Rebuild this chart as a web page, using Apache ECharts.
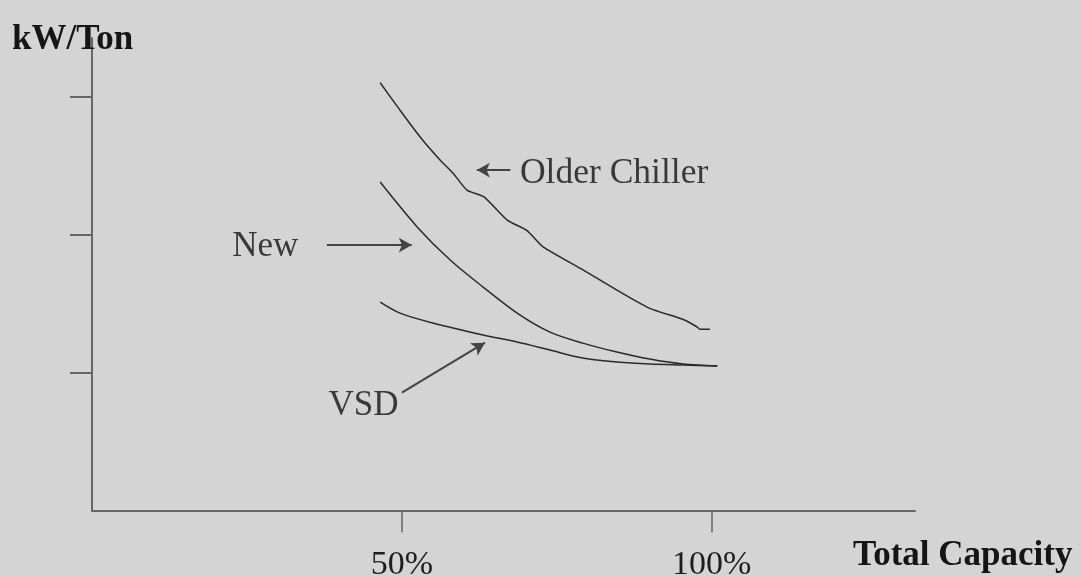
<!DOCTYPE html>
<html>
<head>
<meta charset="utf-8">
<script src="https://cdn.jsdelivr.net/npm/echarts@6/dist/echarts.min.js"></script>
<style>
html,body{margin:0;padding:0;background:#d4d4d4;}
#chart{width:1081px;height:577px;}
</style>
</head>
<body>
<div id="chart"></div>
<script>
// Data (x = % of total capacity, y = kW/Ton in tick units)
var olderX = [46.5, 49.7, 52.95, 56.2, 58.3, 60.5, 63.2, 67.0, 70.2, 72.8, 79.3, 84.7, 90.0, 95.4, 97.6, 98.1, 99.7];
var olderY = [3.105, 2.906, 2.712, 2.543, 2.447, 2.326, 2.278, 2.108, 2.032, 1.914, 1.745, 1.600, 1.467, 1.387, 1.334, 1.315, 1.315];
var newX = [46.5, 52.5, 57.8, 63.1, 68.6, 73.9, 79.2, 84.7, 90.0, 95.4, 100.9];
var newY = [2.384, 2.057, 1.818, 1.622, 1.433, 1.295, 1.215, 1.150, 1.099, 1.063, 1.049];
var vsdX = [46.5, 49.7, 55.0, 63.1, 68.6, 73.9, 79.2, 84.7, 90.0, 95.4, 100.9];
var vsdY = [1.513, 1.433, 1.361, 1.274, 1.223, 1.165, 1.107, 1.078, 1.063, 1.056, 1.049];
var xTickValues = [50, 100];
var yTickValues = [1, 2, 3];
var xTickLabels = ['50%', '100%'];
var annotNames = ['Older Chiller', 'New', 'VSD'];
var annotX = [69.05, 27.95, 43.8];
var annotY = [2.445, 1.912, 0.758];
var arrowFromX = [67.5, 37.9, 50.0];
var arrowFromY = [2.471, 1.927, 0.855];
var arrowToX = [62.1, 51.6, 63.4];
var arrowToY = [2.471, 1.927, 1.218];

function pairs(xs, ys){ return xs.map(function(x,i){ return [x, ys[i]]; }); }

var lineStyleCurve = {color:'#2a2a2a', width:1.5};
var fontFam = '"Liberation Serif", "Times New Roman", serif';

var chart = echarts.init(document.getElementById('chart'), null, {renderer:'canvas'});
chart.setOption({
  backgroundColor:'#d4d4d4',
  animation:false,
  title:[
    {text:'kW/Ton', left:7, top:17, textStyle:{fontFamily:fontFam, fontWeight:'bold', fontSize:35, color:'#151515'}},
    {text:'Total Capacity', left:848, top:533, textStyle:{fontFamily:fontFam, fontWeight:'bold', fontSize:35, color:'#151515'}}
  ],
  grid:{left:92, right:166, top:38, bottom:66.5, containLabel:false, outerBoundsMode:'none'},
  xAxis:{
    type:'value', min:0, max:132.8,
    axisLine:{show:true, lineStyle:{color:'#666', width:2}},
    axisTick:{show:true, customValues:xTickValues, length:22, lineStyle:{color:'#666', width:1.5}},
    axisLabel:{show:true, customValues:xTickValues, margin:38, verticalAlign:'top',
      formatter:function(v){ return xTickLabels[xTickValues.indexOf(v)]; },
      fontFamily:fontFam, fontSize:34, color:'#1e1e1e'},
    splitLine:{show:false}
  },
  yAxis:{
    type:'value', min:0, max:3.43,
    axisLine:{show:true, lineStyle:{color:'#666', width:2}},
    axisTick:{show:true, customValues:yTickValues, length:22, lineStyle:{color:'#666', width:2}},
    axisLabel:{show:false},
    splitLine:{show:false}
  },
  series:[
    {type:'line', name:'Older Chiller', data:pairs(olderX, olderY), showSymbol:false, symbol:'none', smooth:0.2, lineStyle:lineStyleCurve, silent:true},
    {type:'line', name:'New', data:pairs(newX, newY), showSymbol:false, symbol:'none', smooth:0.3, lineStyle:lineStyleCurve, silent:true},
    {type:'line', name:'VSD', data:pairs(vsdX, vsdY), showSymbol:false, symbol:'none', smooth:0.3, lineStyle:lineStyleCurve, silent:true},
    {type:'scatter', name:'annotations', symbolSize:0, silent:true,
      data:annotNames.map(function(n,i){
        return {value:[annotX[i], annotY[i]], name:n,
          label:{show:true, position:'inside', formatter:n, align:(i===0?'left':'center'), verticalAlign:'middle',
            fontFamily:fontFam, fontSize:(i===0?35.5:35), color:'#111'}};
      }),
      markLine:{silent:true, symbol:['none','arrow'], symbolSize:[11,13], animation:false,
        label:{show:false},
        lineStyle:{type:'solid', color:'#444', width:2},
        emphasis:{disabled:true},
        data:arrowFromX.map(function(x,i){
          return [{coord:[x, arrowFromY[i]]}, {coord:[arrowToX[i], arrowToY[i]]}];
        })
      }
    }
  ]
});
</script>
</body>
</html>
